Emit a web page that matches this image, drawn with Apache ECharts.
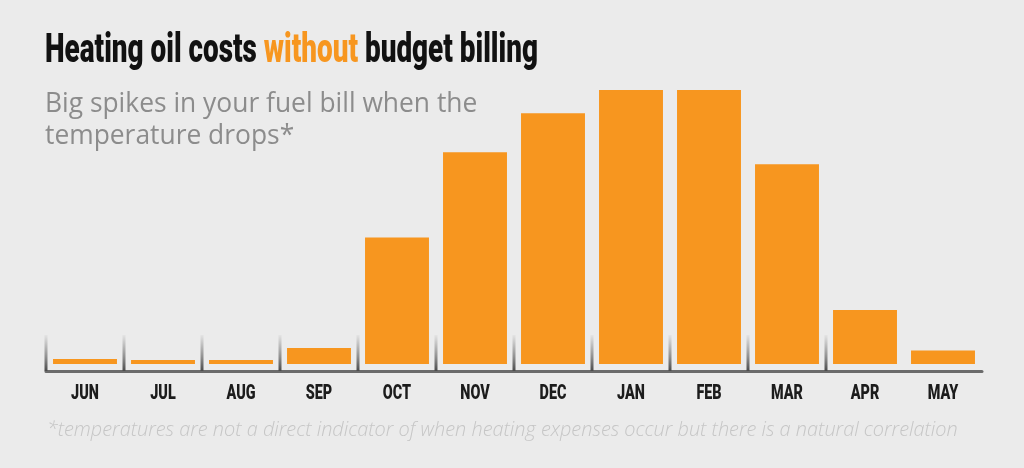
<!DOCTYPE html>
<html>
<head>
<meta charset="utf-8">
<script src="https://cdn.jsdelivr.net/npm/echarts@6/dist/echarts.min.js"></script>
<style>
  html, body { margin: 0; padding: 0; background: #ebebeb; }
  #chart { width: 1024px; height: 468px; }
</style>
</head>
<body>
<div id="chart"></div>
<script>
const months = ["JUN", "JUL", "AUG", "SEP", "OCT", "NOV", "DEC", "JAN", "FEB", "MAR", "APR", "MAY"];
// relative heating oil cost, peak month = 100
const costs = [1.8, 1.5, 1.5, 5.8, 46.2, 77.3, 91.5, 100, 100, 72.9, 19.7, 4.9];
// dividers sit on the boundary left of these category indexes
const dividers = [1, 2, 3, 4, 5, 6, 7, 8, 9, 10, 11];

const orange = "#f7961f";
const squeeze = 0.68; // fake a condensed face, none is installed

const chart = echarts.init(document.getElementById("chart"));

chart.setOption({
  backgroundColor: "#ebebeb",
  animation: false,
  title: {
    left: 40,
    top: 83,
    text: "Big spikes in your fuel bill when the\ntemperature drops*",
    textStyle: {
      fontFamily: "'Open Sans', Lato, sans-serif",
      fontWeight: "normal",
      fontSize: 26.4,
      lineHeight: 32,
      color: "#8c8c8c",
    },
  },
  grid: { left: 46, right: 42, top: 90, bottom: 104 },
  xAxis: {
    type: "category",
    data: months,
    offset: 7,
    axisLine: { onZero: false, lineStyle: { color: "#6b6b6b", width: 3 } },
    axisTick: { show: false },
    axisLabel: { show: false },
  },
  yAxis: { type: "value", min: 0, max: 100, show: false },
  series: [
    {
      type: "bar",
      data: costs,
      barCategoryGap: "18%",
      itemStyle: { color: orange },
      silent: true,
    },
    {
      type: "custom",
      data: dividers,
      silent: true,
      renderItem: (params, api) => {
        const base = api.coord([api.value(0), 0]);
        const x = base[0] - api.size([1, 0])[0] / 2;
        return {
          type: "rect",
          shape: { x: x - 1.5, y: base[1] - 29, width: 3, height: 36 },
          style: {
            fill: new echarts.graphic.LinearGradient(0, 0, 0, 1, [
              { offset: 0, color: "rgba(90,90,90,0.05)" },
              { offset: 0.6, color: "rgba(85,85,85,0.6)" },
              { offset: 1, color: "rgba(75,75,75,1)" },
            ]),
          },
        };
      },
    },
    {
      // month labels, squeezed to look like the condensed original
      type: "custom",
      data: months.map((m, i) => [i, m]),
      silent: true,
      renderItem: (params, api) => {
        const base = api.coord([api.value(0), 0]);
        return {
          type: "text",
          x: base[0],
          y: base[1] + 30,
          scaleX: 0.72,
          style: {
            text: months[params.dataIndex],
            align: "center",
            verticalAlign: "middle",
            fontFamily: "Roboto, sans-serif",
            fontWeight: 900,
            fontSize: 20,
            fill: "#1c1c1c",
          },
        };
      },
    },
  ],
  graphic: [
    {
      type: "text",
      x: 45,
      y: 31,
      scaleX: squeeze,
      style: {
        text: "{a|Heating oil costs }{b|without}{a| budget billing}",
        verticalAlign: "top",
        rich: {
          a: { fontFamily: "Roboto, sans-serif", fontWeight: 900, fontSize: 41, fill: "#111" },
          b: { fontFamily: "Roboto, sans-serif", fontWeight: 900, fontSize: 41, fill: orange },
        },
      },
    },
    {
      type: "text",
      x: 47,
      y: 420,
      style: {
        text: "*temperatures are not a direct indicator of when heating expenses occur but there is a natural correlation",
        verticalAlign: "top",
        fontFamily: "'Open Sans', Lato, sans-serif",
        fontStyle: "italic",
        fontWeight: 300,
        fontSize: 19.9,
        fill: "#c6c6c6",
      },
    },
  ],
});
</script>
</body>
</html>
